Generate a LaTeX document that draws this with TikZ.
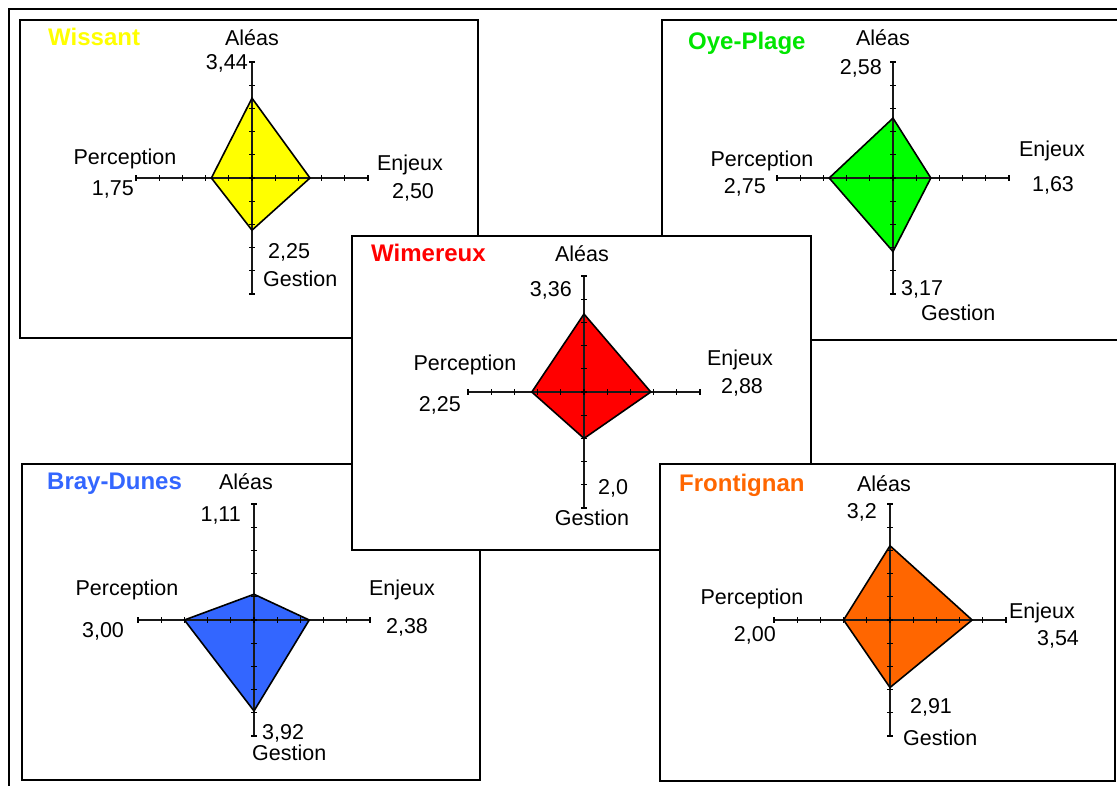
\documentclass[tikz,border=0pt]{standalone}
\usepackage{fontspec}
\setmainfont{Liberation Sans}
\definecolor{cyellow}{HTML}{FFFF00}
\definecolor{cgreen}{HTML}{00FF00}
\definecolor{cgreenT}{HTML}{00E600}
\definecolor{cred}{HTML}{FF0000}
\definecolor{cblue}{HTML}{3366FF}
\definecolor{corange}{HTML}{FF6600}
\tikzset{
  panel/.style={draw=black, fill=white, line width=1.1pt},
  frame/.style={draw=black, line width=2.2pt},
  axisline/.style={draw=black!90, line width=1.1pt},
  tickline/.style={draw=black, line width=1.1pt},
  poly/.style={draw=black, line width=1.6pt, line join=miter},
  lab/.style={font=\fontsize{21.5}{24}\selectfont, inner sep=0pt, text height=15pt, text depth=0pt},
  ttl/.style={font=\fontsize{24}{27}\selectfont\bfseries, inner sep=0pt, text height=17pt, text depth=0pt, anchor=west},
}
\newcommand{\radarchart}[7]{%
  \begin{scope}[shift={(#1,#2)}]
    \fill[#7] (0,-#3*23.2) -- (#4*23.2,0) -- (0,#5*23.2) -- (-#6*23.2,0) -- cycle;
    \draw[axisline] (-116,0) -- (116,0);
    \draw[axisline] (0,-116) -- (0,116);
    \foreach \k in {-5,...,5} {
      \draw[tickline] (\k*23.2,-3) -- (\k*23.2,3);
      \draw[tickline] (-3,\k*23.2) -- (3,\k*23.2);
    }
    \draw[poly] (0,-#3*23.2) -- (#4*23.2,0) -- (0,#5*23.2) -- (-#6*23.2,0) -- cycle;
  \end{scope}}
\begin{document}
\begin{tikzpicture}[x=1pt,y=-1pt]
\useasboundingbox (0,0) rectangle (1117,785);
\clip (0,0) rectangle (1117,785);
\fill[white] (0,0) rectangle (1117,785);
% outer frame (cropped)
\draw[frame] (1130,9) -- (9,9) -- (9,800);

% Wissant
\path[panel] (20,20) rectangle (478,338);
\radarchart{252}{178}{3.44}{2.50}{2.25}{1.75}{cyellow}
\node[ttl, text=cyellow] (wiT) at (48,37) {Wissant};
\node[lab] (wiA) at (252,38) {Aléas};
\node[lab, anchor=east] (wiAv) at (248,62) {3,44};
\node[lab] (wiP) at (125,157) {Perception};
\node[lab, anchor=east] (wiPv) at (134,188) {1,75};
\node[lab] (wiE) at (410,163) {Enjeux};
\node[lab] (wiEv) at (413,191) {2,50};
\node[lab, anchor=west] (wiGv) at (268,251) {2,25};
\node[lab, anchor=west] (wiG) at (263,279) {Gestion};

% Oye-Plage
\path[panel] (662,20) rectangle (1125,340);
\radarchart{893}{178}{2.58}{1.63}{3.17}{2.75}{cgreen}
\node[ttl, text=cgreenT] (oyT) at (688,41) {Oye-Plage};
\node[lab] (oyA) at (883,38) {Aléas};
\node[lab, anchor=east] (oyAv) at (882,67) {2,58};
\node[lab] (oyP) at (762,159) {Perception};
\node[lab, anchor=east] (oyPv) at (766,186) {2,75};
\node[lab] (oyE) at (1052,149) {Enjeux};
\node[lab] (oyEv) at (1053,184) {1,63};
\node[lab, anchor=west] (oyGv) at (901,288) {3,17};
\node[lab, anchor=west] (oyG) at (921,313) {Gestion};

% Bray-Dunes
\path[panel] (22,464) rectangle (480,780);
\radarchart{254}{620}{1.11}{2.38}{3.92}{3.00}{cblue}
\node[ttl, text=cblue] (brT) at (47,481) {Bray-Dunes};
\node[lab] (brA) at (246,482) {Aléas};
\node[lab, anchor=east] (brAv) at (241,514) {1,11};
\node[lab] (brP) at (127,588) {Perception};
\node[lab] (brPv) at (103,630) {3,00};
\node[lab] (brE) at (402,588) {Enjeux};
\node[lab] (brEv) at (407,626) {2,38};
\node[lab, anchor=west] (brGv) at (262,732) {3,92};
\node[lab, anchor=west] (brG) at (252,753) {Gestion};

% Wimereux
\path[panel] (352,236) rectangle (811,550);
\radarchart{584}{392}{3.36}{2.88}{2.0}{2.25}{cred}
\node[ttl, text=cred] (wmT) at (371,253) {Wimereux};
\node[lab] (wmA) at (582,254) {Aléas};
\node[lab, anchor=east] (wmAv) at (572,289) {3,36};
\node[lab] (wmP) at (465,363) {Perception};
\node[lab, anchor=east] (wmPv) at (461,404) {2,25};
\node[lab] (wmE) at (740,358) {Enjeux};
\node[lab] (wmEv) at (742,386) {2,88};
\node[lab, anchor=west] (wmGv) at (598,487) {2,0};
\node[lab] (wmG) at (592,518) {Gestion};

% Frontignan
\path[panel] (660,464) rectangle (1115,781);
\radarchart{890}{620}{3.2}{3.54}{2.91}{2.00}{corange}
\node[ttl, text=corange] (frT) at (679,483) {Frontignan};
\node[lab] (frA) at (884,484) {Aléas};
\node[lab, anchor=east] (frAv) at (877,511) {3,2};
\node[lab] (frP) at (752,597) {Perception};
\node[lab, anchor=east] (frPv) at (776,634) {2,00};
\node[lab] (frE) at (1042,611) {Enjeux};
\node[lab] (frEv) at (1058,638) {3,54};
\node[lab] (frGv) at (931,706) {2,91};
\node[lab, anchor=west] (frG) at (903,738) {Gestion};
\end{tikzpicture}
\end{document}
